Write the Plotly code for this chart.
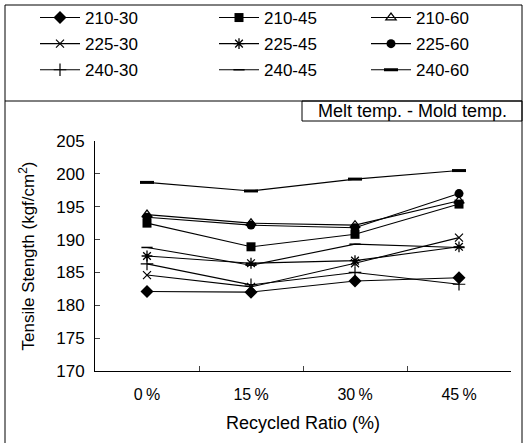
import plotly.graph_objects as go

categories = ["0%", "15%", "30%", "45%"]
tick_labels = ["0\u2009%", "15\u2009%", "30\u2009%", "45\u2009%"]

series_names = ["210-30", "210-45", "210-60",
                "225-30", "225-45", "225-60",
                "240-30", "240-45", "240-60"]

s210_30 = [182.1, 182.0, 183.7, 184.2]
s210_45 = [192.5, 188.9, 190.8, 195.4]
s210_60 = [193.8, 192.5, 192.2, 195.9]
s225_30 = [184.6, 182.8, 186.4, 190.3]
s225_45 = [187.5, 186.4, 186.8, 188.9]
s225_60 = [193.4, 192.2, 191.8, 197.0]
s240_30 = [186.3, 183.1, 185.0, 183.2]
s240_45 = [188.8, 186.1, 189.3, 188.8]
s240_60 = [198.7, 197.4, 199.2, 200.5]

values = [s210_30, s210_45, s210_60, s225_30, s225_45, s225_60, s240_30, s240_45, s240_60]

marker_styles = [
    dict(symbol="diamond", size=10, color="black"),
    dict(symbol="square", size=9, color="black"),
    dict(symbol="triangle-up-open", size=9, color="black", line=dict(width=1.2, color="black")),
    dict(symbol="x-thin-open", size=8, color="black", line=dict(width=1.2, color="black")),
    dict(symbol="asterisk-open", size=9, color="black", line=dict(width=1.3, color="black")),
    dict(symbol="circle", size=9, color="black"),
    dict(symbol="cross-thin-open", size=9, color="black", line=dict(width=1.2, color="black")),
    dict(symbol="line-ew-open", size=8, color="black", line=dict(width=1.5, color="black")),
    dict(symbol="line-ew-open", size=10, color="black", line=dict(width=3, color="black")),
]

legend_ids = ["legend", "legend2", "legend3"]

fig = go.Figure()
for i, (name, vals) in enumerate(zip(series_names, values)):
    fig.add_trace(go.Scatter(
        x=categories, y=vals, name=name, mode="lines+markers",
        line=dict(color="black", width=1.1),
        marker=marker_styles[i],
        legend=legend_ids[i % 3],
        legendgroup=name,
    ))

W, H = 528, 443
L, R, T, B = 95, 17, 141, 72
pw, ph = W - L - R, H - T - B

def px_x(p):
    return (p - L) / pw

def px_y(p):
    return (H - B - p) / ph

fam = "Liberation Sans, Arial, sans-serif"
font = dict(family=fam, size=16, color="black")
legend_common = dict(
    xref="paper", yref="paper", yanchor="top", xanchor="left",
    bgcolor="rgba(0,0,0,0)", borderwidth=0, font=dict(family=fam, size=17, color="black"),
    tracegroupgap=1, itemwidth=40,
)
fig.update_layout(
    width=W, height=H,
    margin=dict(l=L, r=R, t=T, b=B, autoexpand=False),
    paper_bgcolor="white", plot_bgcolor="white",
    font=font,
    showlegend=True,
    legend=dict(x=px_x(35), y=px_y(0), **legend_common),
    legend2=dict(x=px_x(214), y=px_y(0), **legend_common),
    legend3=dict(x=px_x(366), y=px_y(0), **legend_common),
    xaxis=dict(
        type="category", categoryorder="array", categoryarray=categories,
        tickvals=categories, ticktext=tick_labels,
        range=[-0.5, 3.5], tickson="boundaries", ticks="inside", ticklen=5,
        showline=True, linecolor="black", linewidth=1, showgrid=False, zeroline=False,
        title=dict(text="Recycled Ratio (%)", font=dict(size=18), standoff=14),
        tickfont=dict(size=16), tickangle=0, ticklabelstandoff=9,
    ),
    yaxis=dict(
        range=[170, 205], dtick=5, ticks="inside", ticklen=5,
        showline=True, linecolor="black", linewidth=1, showgrid=False, zeroline=False,
        title=dict(text="Tensile Stength (kgf/cm<sup>2</sup>)", font=dict(size=17), standoff=17),
        tickfont=dict(size=17), ticklabelstandoff=6,
    ),
    shapes=[
        dict(type="rect", xref="paper", yref="paper",
             x0=px_x(5), x1=px_x(522), y0=px_y(446), y1=px_y(5),
             line=dict(color="black", width=1), fillcolor="rgba(0,0,0,0)", layer="below"),
        dict(type="line", xref="paper", yref="paper",
             x0=px_x(5), x1=px_x(522), y0=px_y(101), y1=px_y(101),
             line=dict(color="black", width=1)),
        dict(type="rect", xref="paper", yref="paper",
             x0=px_x(302), x1=px_x(522), y0=px_y(121), y1=px_y(101),
             line=dict(color="black", width=1), fillcolor="rgba(0,0,0,0)"),
    ],
    annotations=[
        dict(text="Melt temp. - Mold temp.", xref="paper", yref="paper",
             x=px_x(412), y=px_y(111), showarrow=False,
             font=dict(size=18, color="black"), xanchor="center", yanchor="middle"),
    ],
)

fig.write_html("out.html", config={"displayModeBar": False},
               post_script="document.body.style.margin='0';")
